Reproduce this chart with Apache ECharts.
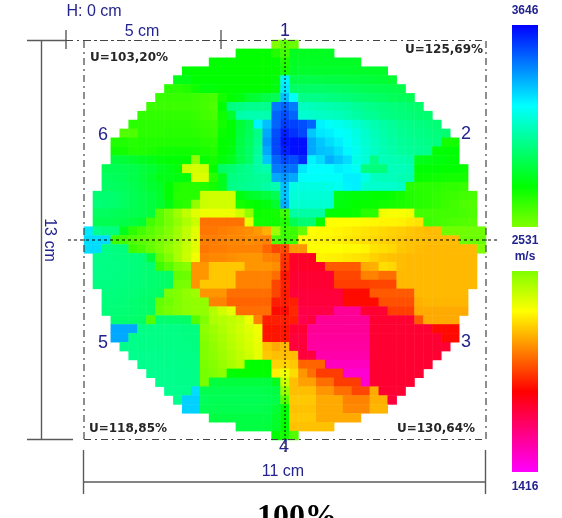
<!DOCTYPE html>
<html><head><meta charset="utf-8">
<style>html,body{margin:0;padding:0;background:#fff}#c{width:562px;height:518px;filter:blur(0.45px)}</style>
<script src="https://cdn.jsdelivr.net/npm/echarts@6/dist/echarts.min.js"></script>
</head><body><div id="c"></div>
<script>
const _ = null;
const scaleMin = 1416, scaleMid = 2531, scaleMax = 3646;
const rampColors = ['#ff00ff','#ff0000','#ffff00','#00ff00','#00ffff','#0000ff'];
const row00=[_,_,_,_,_, _,_,_,_,_, _,_,_,_,_, _,_,_,_,_, _,2531,2590,2570,_, _,_,_,_,_, _,_,_,_,_, _,_,_,_,_, _,_,_,_,_];
const row01=[_,_,_,_,_, _,_,_,_,_, _,_,_,_,_, _,_,2750,2750,2750, 2750,2700,2640,2810,2810, 2810,2810,2810,_,_, _,_,_,_,_, _,_,_,_,_, _,_,_,_,_];
const row02=[_,_,_,_,_, _,_,_,_,_, _,_,_,_,2750, 2750,2750,2750,2750,2750, 2750,2754,2700,2815,2815, 2815,2815,2815,2815,2815, 2815,_,_,_,_, _,_,_,_,_, _,_,_,_,_];
const row03=[_,_,_,_,_, _,_,_,_,_, _,2760,2750,2750,2750, 2750,2750,2750,2750,2750, 2750,2750,2720,2825,2830, 2830,2830,2830,2830,2830, 2825,2825,2825,2825,_, _,_,_,_,_, _,_,_,_,_];
const row04=[_,_,_,_,_, _,_,_,_,_, 2790,2790,2760,2755,2755, 2755,2755,2755,2755,2755, 2755,2770,3220,2880,2880, 2880,2875,2870,2870,2865, 2860,2855,2850,2840,2840, _,_,_,_,_, _,_,_,_,_];
const row05=[_,_,_,_,_, _,_,_,_,2680, 2680,2700,2730,2770,2770, 2754,2754,2754,2754,2754, 2754,2780,3240,2930,2930, 2930,2930,2925,2920,2915, 2910,2900,2895,2890,2885, 2880,_,_,_,_, _,_,_,_,_];
const row06=[_,_,_,_,_, _,_,_,2660,2660, 2660,2660,2650,2640,2630, 2720,2750,2780,2830,2850, 2880,2900,3310,3180,2990, 2990,2985,2975,2970,2960, 2950,2940,2930,2920,2910, 2905,2900,_,_,_, _,_,_,_,_];
const row07=[_,_,_,_,_, _,_,2650,2650,2650, 2650,2650,2645,2635,2620, 2760,2980,2990,3000,3000, 3000,3430,3470,3430,3090, 3080,3070,3060,3050,3040, 3020,3000,2990,2980,2970, 2960,2950,2940,_,_, _,_,_,_,_];
const row08=[_,_,_,_,_, _,2670,2670,2670,2670, 2670,2670,2660,2640,2630, 2730,2830,3050,3060,3060, 3060,3470,3510,3470,3120, 3110,3100,3090,3080,3060, 3040,3020,3010,2990,2980, 2970,2960,2950,2945,_, _,_,_,_,_];
const row09=[_,_,_,_,_, 2680,2680,2680,2680,2680, 2680,2680,2670,2660,2650, 2720,2760,2850,2900,3220, 3310,3470,3540,3530,3510, 3470,3220,3190,3170,3150, 3120,3090,3060,3040,3020, 3000,2990,2980,2970,2960, _,_,_,_,_];
const row10=[_,_,_,_,2610, 2620,2680,2680,2680,2690, 2690,2690,2680,2670,2660, 2740,2760,2860,2910,2990, 3350,3510,3590,3560,3520, 3296,3240,3226,3200,3180, 3150,3110,3080,3050,3030, 3010,3000,2990,2980,2970, 2950,_,_,_,_];
const row11=[_,_,_,2700,2700, 2690,2700,2700,2700,2700, 2700,2700,2700,2690,2680, 2750,2770,2870,2920,3000, 3380,3520,3610,3620,3620, 3350,3296,3260,3226,3190, 3160,3120,3090,3060,3040, 3020,3010,3000,2990,2980, 2720,2720,_,_,_];
const row12=[_,_,_,2730,2720, 2700,2700,2710,2720,2730, 2730,2730,2720,2710,2700, 2750,2780,2880,2930,3020, 3350,3520,3590,3620,3620, 3350,3310,3296,3260,3210, 3170,3130,3100,3070,3050, 3030,3020,3010,3000,2760, 2760,2760,_,_,_];
const row13=[_,_,_,2860,2850, 2830,2810,2790,2770,2760, 2760,2750,2500,2740,2720, 2770,2800,2880,2930,3040, 3300,3470,3520,3510,3570, 3220,3260,3340,3300,3260, 3160,3130,2990,3080,3070, 3060,3050,2800,2790,2780, 2770,2760,_,_,_];
const row14=[_,_,2900,2900,2890, 2880,2860,2840,2810,2790, 2770,2390,2380,2390,2750, 2930,2950,2980,3000,3040, 3060,3430,3450,3450,3240, 3200,3200,3200,3226,3210, 3180,2980,2970,2970,3080, 3080,3070,2760,2760,2760, 2750,2750,2740,_,_];
const row15=[_,_,2920,2910,2900, 2880,2860,2830,2790,2790, 2780,2770,2370,2370,2690, 2800,2980,2990,3000,3020, 3020,3350,3380,3350,3190, 3190,3190,3190,3190,3226, 3226,3160,3090,3080,3080, 3070,3060,2740,2735,2730, 2725,2720,2720,_,_];
const row16=[_,_,2930,2920,2910, 2890,2870,2840,2820,2760, 2700,2690,2690,2700,2720, 2800,2990,3000,3010,3020, 3040,3060,3310,3150,3150, 3150,3150,3160,3170,3220, 3226,3120,3110,3110,3110, 3100,2690,2680,2680,2680, 2670,2670,2660,_,_];
const row17=[_,2950,2950,2940,2920, 2900,2880,2860,2830,2760, 2690,2690,2690,2400,2390, 2390,2390,2780,2820,2840, 2860,2900,3300,3130,3130, 3130,3130,3130,2790,2780, 2770,2770,2750,2750,2740, 2720,2700,2690,2680,2670, 2660,2650,2640,2630,_];
const row18=[_,2960,2950,2940,2920, 2900,2880,2860,2840,2780, 2700,2680,2500,2400,2390, 2390,2390,2720,2740,2760, 2780,2830,3340,3120,3120, 3120,3120,3120,2780,2770, 2750,2745,2740,2730,2720, 2710,2700,2690,2680,2670, 2650,2640,2620,2610,_];
const row19=[_,2920,2920,2910,2900, 2890,2880,2860,2600,2540, 2480,2420,2360,2340,2340, 2340,2340,2390,2500,2740, 2730,2720,2650,3040,3040, 3040,3040,2750,2750,2750, 2740,2680,2680,2330,2320, 2320,2330,2640,2640,2640, 2640,2640,2630,2620,_];
const row20=[_,2900,2900,2890,2880, 2860,2840,2640,2600,2550, 2500,2450,2400,2060,2060, 2060,2060,2060,2350,2730, 2730,2730,2700,2900,2950, 2950,2750,2310,2308,2308, 2308,2300,2295,2290,2290, 2285,2270,2260,2650,2640, 2630,2620,2610,2600,_];
const row21=[3240,3000,2980,2970,2800, 2680,2640,2600,2570,2530, 2480,2420,2360,2070,2070, 2080,2090,2100,2110,2130, 2170,2480,2650,2650,2580, 2308,2300,2300,2290,2280, 2270,2260,2250,2240,2230, 2220,2210,2200,2190,2190, 2560,2560,2560,2560,2560];
const row22=[3260,3260,3260,2650,2640, 2620,2600,2580,2550,2520, 2470,2420,2360,2080,2080, 2090,2100,2100,2110,2100, 2090,2620,2650,2650,2300, 2300,2295,2290,2280,2270, 2260,2250,2240,2230,2220, 2210,2200,2195,2190,2190, 2190,2190,2570,2570,2570];
const row23=[3260,3260,2990,2980,2970, 2650,2630,2580,2540,2500, 2460,2410,2360,2070,2080, 2080,2090,2090,2090,2090, 2040,1985,1990,2125,2125, 2308,2308,2308,2308,2300, 2300,2290,2260,2250,2240, 2210,2200,2190,2185,2185, 2185,2185,2185,2185,2531];
const row24=[_,2985,2985,2980,2975, 2970,2965,2850,2590,2530, 2460,2400,2330,2090,2100, 2100,2110,2120,2125,2125, 2090,2080,1950,1790,1790, 1800,2290,2285,2280,2270, 2260,2250,2230,2210,2200, 2190,2185,2185,2185,2185, 2185,2185,2185,2185,_];
const row25=[_,2990,2985,2985,2980, 2970,2960,2950,2650,2600, 2540,2520,2125,2125,2210, 2210,2210,2210,2125,2125, 2125,2110,1940,1790,1790, 1790,1790,2020,2020,2020, 2020,2160,2170,2250,2240, 2190,2185,2185,2185,2185, 2185,2185,2185,2185,_];
const row26=[_,2985,2985,2980,2975, 2970,2960,2950,2940,2930, 2580,2570,2125,2125,2210, 2210,2210,2090,2090,2090, 2090,2055,1900,1775,1775, 1775,1775,1775,1985,1985, 1985,2090,2090,2055,2055, 2185,2185,2185,2185,2185, 2185,2185,2185,2185,_];
const row27=[_,2980,2980,2975,2970, 2965,2960,2950,2940,2930, 2550,2540,2125,2210,2210, 2210,2210,2090,2090,2090, 2090,1985,1920,1775,1775, 1775,1775,1775,1970,1970, 1970,1970,1985,1985,1985, 2185,2185,2185,2185,2185, 2185,2185,2185,2185,_];
const row28=[_,_,2975,2970,2965, 2960,2950,2940,2930,2540, 2530,2500,2480,2125,2125, 2125,2055,2055,2055,2055, 2055,1985,1910,1760,1760, 1760,1760,1760,1760,1880, 1880,1880,2020,2020,2020, 2020,2020,2185,2185,2185, 2185,2185,2185,_,_];
const row29=[_,_,2970,2965,2960, 2950,2940,2930,2580,2560, 2530,2510,2500,2500,2090, 2090,2037,2037,2037,2037, 2037,1915,1915,1915,1757, 1757,1757,1757,1757,1880, 1880,1880,1880,2000,2000, 2000,2000,2170,2180,2180, 2180,2180,2180,_,_];
const row30=[_,_,2965,2960,2955, 2950,2940,2930,2570,2550, 2530,2510,2500,2500,2440, 2390,2350,2055,2055,2055, 2055,1880,1880,1930,1740, 1740,1740,1740,1600,1600, 1600,1775,1775,1775,1970, 1970,1970,2160,2160,2160, 2160,2160,2160,_,_];
const row31=[_,_,_,2950,2945, 2940,2930,2610,2950,2945, 2940,2930,2610,2530,2450, 2440,2420,2400,2340,2090, 1915,1915,1915,1915,1725, 1757,1600,1600,1600,1600, 1600,1600,1775,1775,1775, 1775,1775,2020,2160,2160, 2160,2160,_,_,_];
const row32=[_,_,_,3350,3350, 3350,2985,2985,2985,2985, 2985,2980,2980,2510,2480, 2450,2420,2390,2360,2330, 1897,1897,1897,1775,1775, 1600,1600,1600,1600,1600, 1600,1600,1775,1775,1775, 1775,1775,1775,1775,1880, 1880,1880,_,_,_];
const row33=[_,_,_,3350,3350, 2990,2990,2990,2985,2985, 2985,2980,2980,2520,2490, 2460,2430,2400,2370,2340, 1897,1897,1897,1757,1757, 1590,1590,1590,1590,1590, 1590,1590,1775,1775,1775, 1775,1775,1775,1775,1775, 1880,1880,_,_,_];
const row34=[_,_,_,_,2995, 2995,2990,2990,2990,2985, 2985,2985,2980,2530,2500, 2470,2440,2410,2380,2350, 2195,2160,2180,1757,1757, 1580,1580,1580,1580,1580, 1580,1580,1775,1775,1775, 1775,1775,1775,1775,1775, 1775,_,_,_,_];
const row35=[_,_,_,_,_, 3000,3000,3000,2995,2995, 2990,2990,2985,2530,2510, 2480,2450,2420,2390,2350, 2212,2195,2195,2190,1757, 1757,1565,1565,1565,1565, 1565,1565,1775,1775,1775, 1775,1775,1775,1775,1775, _,_,_,_,_];
const row36=[_,_,_,_,_, _,3000,3000,3000,2995, 2995,2990,2985,2540,2520, 2490,2460,2430,2754,2754, 2754,2230,2230,2212,2037, 2037,2037,1530,1530,1530, 1530,1530,1775,1775,1775, 1775,1775,1775,1775,_, _,_,_,_,_];
const row37=[_,_,_,_,_, _,_,3000,3000,3000, 2995,2995,2990,2550,2530, 2510,2754,2754,2754,2754, 2754,2282,2340,2247,2125, 2055,1967,1967,1967,1495, 1495,1495,1775,1775,1775, 1775,1775,1775,_,_, _,_,_,_,_];
const row38=[_,_,_,_,_, _,_,_,3000,3000, 2995,2995,2990,2540,2860, 2860,2860,2860,2860,2860, 2860,2810,2400,2195,2140, 2140,2055,2055,1967,1967, 1967,1495,1775,1775,1775, 1775,1775,_,_,_, _,_,_,_,_];
const row39=[_,_,_,_,_, _,_,_,_,3000, 3000,2995,3260,2890,2890, 2890,2890,2890,2890,2890, 2880,2870,2490,2195,2195, 2195,2125,2125,2055,2055, 1985,1985,2160,1775,1775, 1775,_,_,_,_, _,_,_,_,_];
const row40=[_,_,_,_,_, _,_,_,_,_, 3000,3280,3280,2910,2900, 2900,2900,2900,2900,2900, 2890,2880,2600,2212,2212, 2212,2160,2160,2160,2090, 2090,2090,2170,2170,1757, _,_,_,_,_, _,_,_,_,_];
const row41=[_,_,_,_,_, _,_,_,_,_, _,3280,3280,2900,2890, 2890,2890,2890,2890,2890, 2880,2850,2754,2200,2200, 2200,2160,2160,2160,2100, 2100,2100,2180,2180,_, _,_,_,_,_, _,_,_,_,_];
const row42=[_,_,_,_,_, _,_,_,_,_, _,_,_,_,2870, 2870,2870,2870,2870,2870, 2870,2830,2754,2212,2212, 2212,2160,2160,2160,2160, 2160,_,_,_,_, _,_,_,_,_, _,_,_,_,_];
const row43=[_,_,_,_,_, _,_,_,_,_, _,_,_,_,_, _,_,2870,2870,2870, 2860,2830,2754,2200,2200, 2200,2200,2200,_,_, _,_,_,_,_, _,_,_,_,_, _,_,_,_,_];
const row44=[_,_,_,_,_, _,_,_,_,_, _,_,_,_,_, _,_,_,_,_, _,2754,2720,2610,_, _,_,_,_,_, _,_,_,_,_, _,_,_,_,_, _,_,_,_,_];
const rows=[row00,row01,row02,row03,row04,row05,row06,row07,row08,row09,row10,row11,row12,row13,row14,row15,row16,row17,row18,row19,row20,row21,row22,row23,row24,row25,row26,row27,row28,row29,row30,row31,row32,row33,row34,row35,row36,row37,row38,row39,row40,row41,row42,row43,row44];
const cornerLabels=['U=103,20%','U=125,69%','U=118,85%','U=130,64%'];
const pointLabels=['1','2','3','4','5','6'];

const cells=[];
rows.forEach((r,y)=>r.forEach((v,x)=>{if(v!==null)cells.push([x,y,v]);}));
const idx=rows.map((_r,i)=>i);
const navy='#23238e', gray='#5a5a5a';
const line=(x1,y1,x2,y2,style)=>({type:'line',shape:{x1,y1,x2,y2},style:Object.assign({stroke:gray,lineWidth:1.4},style||{}),z:10});
const txt=(t,x,y,size,extra)=>({type:'text',x,y,z:11,style:Object.assign({text:t,fill:navy,font:size+'px "Liberation Sans"',textAlign:'center',textVerticalAlign:'middle'},extra||{})});
const dashDot={lineDash:[7,4,2,4],stroke:'#444',lineWidth:1.2};
const dot={stroke:'#000',lineDash:[2,2],lineWidth:1};
const grad=(stops)=>({type:'linear',x:0,y:0,x2:0,y2:1,colorStops:stops});
const uFont={fill:'#262626',font:'bold 12px "DejaVu Sans"'};
const barFont={font:'bold 12px "Liberation Sans"'};
const gfx=[
 line(84,40.5,486,40.5,dashDot),line(84,439.5,486,439.5,dashDot),line(84,41,84,440,dashDot),line(486,41,486,440,dashDot),
 line(285,30,285,452,dot),line(68,240,500,240,{stroke:'#000',lineDash:[3,3],lineWidth:1}),
 line(27,40.5,66,40.5),line(66,30,66,49),line(221,30,221,49),line(66,40.5,221,40.5,dashDot),
 line(41.5,41,41.5,439),line(27,439.5,73,439.5),
 line(83.5,450,83.5,494),line(485.5,450,485.5,494),line(84,482,485,482),
 txt('H: 0 cm',94,12,16),txt('5 cm',142,32,16),txt('11 cm',283,472,16),
 {type:'text',x:49,y:240,rotation:-Math.PI/2,z:11,style:{text:'13 cm',fill:navy,font:'16px "Liberation Sans"',textAlign:'center',textVerticalAlign:'middle'}},
 txt(pointLabels[0],285,31,18),txt(pointLabels[1],466,134,18),txt(pointLabels[2],466,342,18),txt(pointLabels[3],284,447,18),txt(pointLabels[4],103,343,18),txt(pointLabels[5],103,135,18),
 txt(cornerLabels[0],129,58,12,uFont),txt(cornerLabels[1],444,50,12,uFont),
 txt(cornerLabels[2],128,429,12,uFont),txt(cornerLabels[3],436,429,12,uFont),
 {type:'rect',shape:{x:512,y:25,width:26,height:202},z:5,style:{fill:grad([{offset:0,color:'#0000ff'},{offset:0.4,color:'#00ffff'},{offset:0.8,color:'#00ff00'},{offset:1,color:'#80ff00'}])}},
 {type:'rect',shape:{x:512,y:271,width:26,height:201},z:5,style:{fill:grad([{offset:0,color:'#80ff00'},{offset:0.2,color:'#ffff00'},{offset:0.6,color:'#ff0000'},{offset:1,color:'#ff00ff'}])}},
 txt(String(scaleMax),525,11,12,barFont),txt(String(scaleMid),525,241,12,barFont),
 txt('m/s',525,257,12,barFont),txt(String(scaleMin),525,487,12,barFont),
 {type:'text',x:297,y:534,z:11,style:{text:'100%',fill:'#000',font:'bold 32px "Liberation Serif"',textAlign:'center',textVerticalAlign:'bottom'}}
];
const chart=echarts.init(document.getElementById('c'),null,{renderer:'canvas'});
chart.setOption({
 animation:false,
 grid:{left:84,top:40,width:402,height:400},
 xAxis:{type:'category',data:idx,show:false},
 yAxis:{type:'category',data:idx,show:false,inverse:true},
 visualMap:{show:false,type:'continuous',min:scaleMin,max:scaleMax,dimension:2,seriesIndex:0,inRange:{color:rampColors}},
 series:[{type:'heatmap',data:cells,progressive:0,emphasis:{disabled:true},itemStyle:{borderWidth:0}}],
 graphic:gfx
});
</script></body></html>
